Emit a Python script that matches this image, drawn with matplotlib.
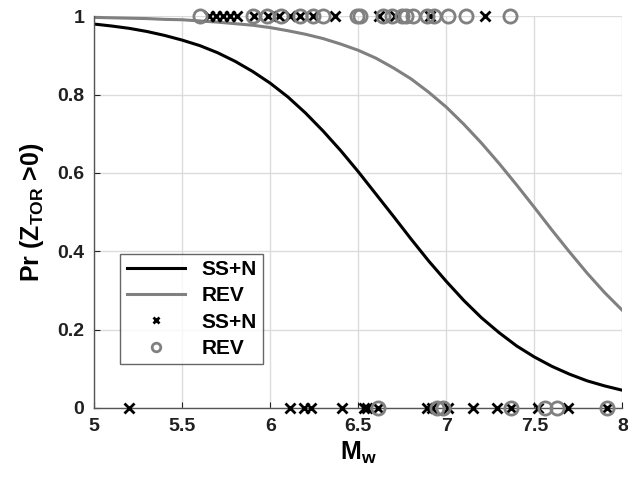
import matplotlib.pyplot as plt
import numpy as np

# Curvas de probabilidad (paso 0.1 en Mw)
mw = np.round(np.arange(5.0, 8.0001, 0.1), 1)
p_ssn = [0.980, 0.975, 0.969, 0.961, 0.951, 0.939, 0.925, 0.907, 0.885, 0.859,
         0.829, 0.794, 0.753, 0.707, 0.657, 0.603, 0.546, 0.489, 0.431, 0.375,
         0.323, 0.274, 0.230, 0.192, 0.158, 0.130, 0.106, 0.086, 0.069, 0.056,
         0.045]
p_rev = [0.997, 0.996, 0.995, 0.994, 0.992, 0.991, 0.988, 0.985, 0.981, 0.977,
         0.971, 0.963, 0.954, 0.943, 0.929, 0.913, 0.893, 0.868, 0.840, 0.806,
         0.768, 0.724, 0.676, 0.624, 0.569, 0.512, 0.454, 0.398, 0.344, 0.294,
         0.249]

# Observaciones (Ztor > 0 -> 1, Ztor = 0 -> 0)
ssn_top = [5.65, 5.69, 5.73, 5.77, 5.81, 5.91, 5.99, 6.05, 6.11, 6.17, 6.24,
           6.37, 6.62, 6.71, 6.91, 7.22]
ssn_bot = [5.20, 6.11, 6.19, 6.23, 6.41, 6.53, 6.55, 6.61, 6.89, 6.92, 7.01,
           7.15, 7.29, 7.37, 7.52, 7.69, 7.91]
rev_top = [5.60, 5.90, 5.98, 6.06, 6.17, 6.24, 6.30, 6.49, 6.51, 6.64, 6.69,
           6.75, 6.77, 6.81, 6.89, 6.93, 7.01, 7.11, 7.36]
rev_bot = [6.61, 6.95, 6.98, 7.37, 7.56, 7.63, 7.91]

gris = '#808080'

plt.rcParams['font.family'] = ['Liberation Sans', 'DejaVu Sans']
plt.rcParams['font.weight'] = 'bold'
plt.rcParams['mathtext.fontset'] = 'custom'
plt.rcParams['mathtext.bf'] = 'Liberation Sans:bold'
plt.rcParams['mathtext.rm'] = 'Liberation Sans:bold'

fig = plt.figure(figsize=(6.28, 4.92), dpi=100)
ax = fig.add_axes([0.150, 0.171, 0.841, 0.796])

ax.plot(mw, p_ssn, color='black', lw=2.2, label='SS+N')
ax.plot(mw, p_rev, color=gris, lw=2.2, label='REV')

x_ss = ssn_top + ssn_bot
y_ss = [1] * len(ssn_top) + [0] * len(ssn_bot)
x_rv = rev_top + rev_bot
y_rv = [1] * len(rev_top) + [0] * len(rev_bot)

ax.plot(x_ss, y_ss, ls='none', marker='x', ms=6.5, mew=2, color='black',
        label='SS+N', clip_on=False, zorder=4)
ax.plot(x_rv, y_rv, ls='none', marker='o', ms=9.5, mew=2, mfc='none',
        mec=gris, label='REV', clip_on=False, zorder=5)

ax.set_xlim(5, 8)
ax.set_ylim(0, 1)
ax.set_xticks([5, 5.5, 6, 6.5, 7, 7.5, 8])
ax.set_xticklabels(['5', '5.5', '6', '6.5', '7', '7.5', '8'])
ax.set_yticks([0, 0.2, 0.4, 0.6, 0.8, 1])
ax.set_yticklabels(['0', '0.2', '0.4', '0.6', '0.8', '1'])
ax.grid(True, color='#dcdcdc', lw=1)
ax.set_axisbelow(True)

for s in ['top', 'right']:
    ax.spines[s].set_visible(False)
for s in ['left', 'bottom']:
    ax.spines[s].set_color('#555555')
    ax.spines[s].set_linewidth(1)
ax.tick_params(direction='in', length=4, labelsize=14, colors='#202020',
               pad=7)

ax.set_xlabel(r'M$_\mathbf{w}$', fontsize=18, fontweight='bold', labelpad=4)
ax.set_ylabel(r'Pr (Z$_\mathbf{TOR}$ >0)', fontsize=18, fontweight='bold',
              labelpad=8)

leg = ax.legend(loc='lower left', bbox_to_anchor=(0.03, 0.085), fontsize=15,
                frameon=True, fancybox=False, handlelength=2.8,
                borderpad=0.3, labelspacing=0.35, handletextpad=0.8,
                markerscale=0.65)
leg.get_frame().set_edgecolor('#404040')
leg.get_frame().set_linewidth(1)

fig.savefig('out.png', dpi=100)
